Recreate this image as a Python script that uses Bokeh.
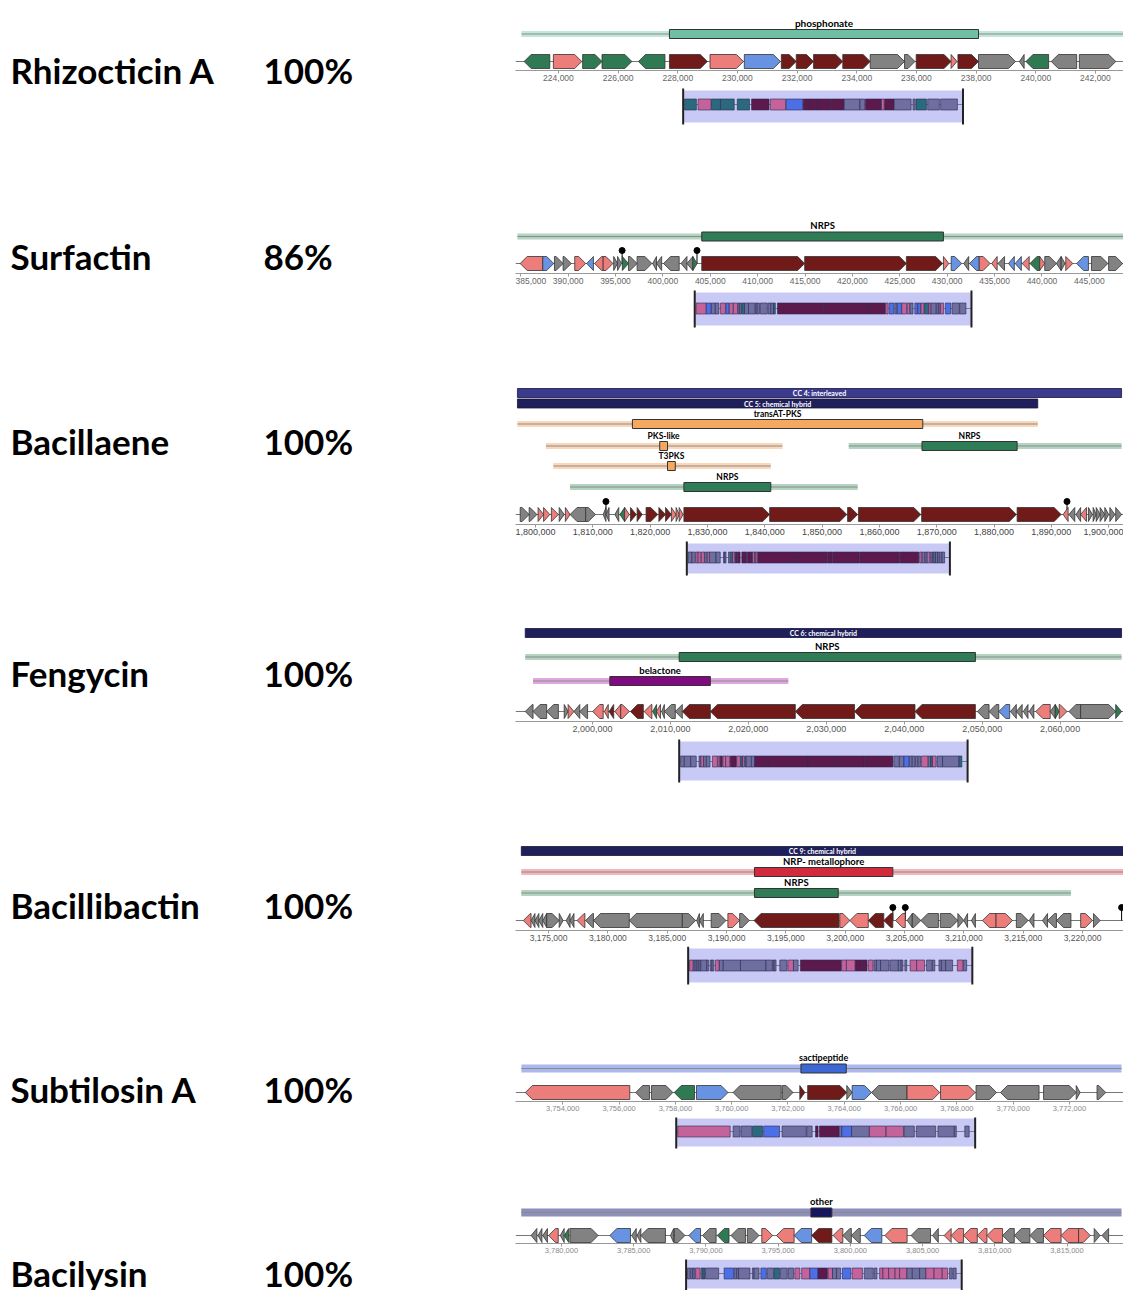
from bokeh.plotting import figure
from bokeh.layouts import row, column
from bokeh.models import Range1d, SingleIntervalTicker, NumeralTickFormatter, ColumnDataSource
from bokeh.embed import file_html
from bokeh.resources import INLINE
from bokeh.core.properties import value

# ---------------- data ----------------
NAMES = ["Rhizocticin A", "Surfactin", "Bacillaene", "Fengycin", "Bacillibactin", "Subtilosin A", "Bacilysin"]
SIMILARITY = ["100%", "86%", "100%", "100%", "100%", "100%", "100%"]

# visible genomic window (kb) and tick step (bp)
VIEWS = [(222.56, 242.94), (384.45, 448.60), (1796.51, 1902.59), (1990.13, 2068.13),
         (3172.21, 3223.45), (3752.32, 3773.92), (3776.82, 3818.91)]
TICK_STEP = [2000, 5000, 10000, 10000, 5000, 2000, 5000]

# genes: (start kb, end kb, strand, class)
RHIZ_GENES = [
    (222.85, 223.71, -1, "tra"), (223.83, 224.78, 1, "add"), (224.81, 225.46, 1, "tra"),
    (225.46, 226.46, 1, "tra"), (226.68, 227.57, -1, "tra"), (227.72, 228.99, 1, "bio"),
    (229.08, 230.20, 1, "add"), (230.23, 231.44, 1, "reg"), (231.47, 231.97, 1, "bio"),
    (231.97, 232.55, 1, "bio"), (232.55, 233.53, 1, "bio"), (233.53, 234.45, 1, "bio"),
    (234.45, 235.60, 1, "oth"), (235.60, 235.95, 1, "oth"), (235.99, 237.16, 1, "bio"),
    (237.16, 237.36, 1, "add"), (237.39, 238.08, 1, "bio"), (238.08, 239.32, 1, "oth"),
    (239.45, 239.61, -1, "oth"), (239.67, 240.43, -1, "tra"), (240.52, 241.37, -1, "oth"),
    (241.46, 242.68, 1, "oth"),
]
SURF_GENES = [
    (384.94, 387.33, -1, "add"), (387.33, 388.48, 1, "reg"), (388.56, 389.47, 1, "oth"),
    (389.47, 390.33, 1, "oth"), (390.70, 391.85, 1, "add"), (391.97, 392.67, -1, "reg"),
    (392.80, 393.70, -1, "add"), (393.70, 394.73, 1, "add"), (394.81, 395.22, 1, "oth"),
    (395.22, 395.63, 1, "oth"), (395.72, 396.37, 1, "tra"), (396.37, 397.28, 1, "oth"),
    (397.28, 398.84, 1, "oth"), (398.92, 399.33, -1, "oth"), (399.33, 399.87, -1, "oth"),
    (400.07, 401.72, -1, "oth"), (401.92, 402.54, -1, "oth"), (402.54, 403.16, -1, "oth"),
    (403.16, 403.61, 1, "tra"), (404.10, 414.96, 1, "bio"), (414.96, 425.69, 1, "bio"),
    (425.69, 429.52, 1, "bio"), (429.60, 430.17, 1, "add"), (430.42, 431.53, 1, "reg"),
    (431.74, 432.27, -1, "oth"), (432.35, 433.38, -1, "reg"), (433.38, 434.53, 1, "add"),
    (434.70, 435.27, -1, "add"), (435.36, 436.05, -1, "oth"), (436.47, 437.08, -1, "reg"),
    (437.17, 437.82, -1, "reg"), (437.91, 438.65, -1, "add"), (438.73, 439.76, -1, "tra"),
    (439.76, 440.29, 1, "add"), (440.29, 441.52, 1, "oth"), (441.52, 442.02, -1, "oth"),
    (442.02, 442.43, 1, "oth"), (442.51, 443.25, 1, "add"), (443.66, 444.90, -1, "reg"),
    (445.22, 446.95, 1, "oth"), (447.03, 448.51, 1, "oth"),
]
BACL_GENES = [
    (1797.33, 1798.89, 1, "oth"), (1798.89, 1800.25, 1, "oth"), (1800.45, 1801.41, 1, "add"),
    (1801.41, 1802.49, 1, "add"), (1802.77, 1803.99, 1, "add"), (1804.13, 1805.01, 1, "oth"),
    (1805.21, 1806.03, 1, "add"), (1806.03, 1808.75, -1, "oth"), (1808.75, 1810.45, 1, "oth"),
    (1811.81, 1812.29, -1, "oth"), (1812.29, 1812.83, -1, "oth"), (1813.85, 1814.53, -1, "oth"),
    (1814.73, 1815.55, -1, "tra"), (1815.55, 1816.37, 1, "add"), (1816.57, 1817.59, 1, "bio"),
    (1817.73, 1818.61, 1, "bio"), (1819.29, 1821.33, 1, "bio"), (1821.53, 1822.69, 1, "bio"),
    (1822.69, 1823.71, 1, "bio"), (1823.71, 1824.53, 1, "add"), (1824.53, 1825.07, 1, "add"),
    (1825.07, 1825.75, 1, "add"), (1825.89, 1840.85, 1, "bio"), (1840.85, 1854.31, 1, "bio"),
    (1854.45, 1856.21, 1, "bio"), (1856.35, 1867.23, 1, "bio"), (1867.37, 1883.89, 1, "bio"),
    (1884.03, 1891.71, 1, "bio"), (1892.05, 1892.93, -1, "add"), (1893.07, 1894.09, -1, "oth"),
    (1894.29, 1895.11, -1, "oth"), (1895.11, 1896.13, -1, "add"), (1896.47, 1897.15, 1, "oth"),
    (1897.29, 1897.83, 1, "oth"), (1897.83, 1898.51, 1, "oth"), (1898.51, 1899.33, 1, "oth"),
    (1899.33, 1900.01, 1, "oth"), (1900.21, 1901.09, 1, "oth"), (1901.23, 1902.25, 1, "oth"),
]
FENG_GENES = [
    (1991.38, 1992.38, -1, "oth"), (1992.38, 1994.13, -1, "oth"), (1994.13, 1995.63, -1, "oth"),
    (1996.38, 1996.88, 1, "oth"), (1996.88, 1997.63, 1, "add"), (1997.63, 1998.38, -1, "oth"),
    (1998.38, 1999.38, -1, "oth"), (2000.03, 2001.38, -1, "add"), (2001.53, 2002.03, -1, "add"),
    (2002.13, 2002.73, -1, "bio"), (2002.88, 2003.63, -1, "add"), (2003.63, 2004.73, 1, "add"),
    (2004.88, 2006.53, -1, "bio"), (2006.63, 2007.63, -1, "add"), (2007.73, 2008.23, -1, "tra"),
    (2008.23, 2008.73, -1, "add"), (2008.88, 2009.23, -1, "oth"), (2009.23, 2010.63, -1, "oth"),
    (2010.63, 2011.53, -1, "oth"), (2011.53, 2015.13, -1, "bio"), (2015.13, 2026.03, -1, "bio"),
    (2026.03, 2033.63, -1, "bio"), (2033.63, 2041.38, -1, "bio"), (2041.38, 2049.13, -1, "bio"),
    (2049.38, 2050.88, -1, "oth"), (2050.88, 2052.13, -1, "oth"), (2052.13, 2053.53, -1, "reg"),
    (2053.63, 2054.38, -1, "oth"), (2054.38, 2055.13, -1, "oth"), (2055.28, 2055.88, -1, "oth"),
    (2056.03, 2056.63, -1, "oth"), (2056.88, 2058.73, -1, "add"), (2058.73, 2059.38, -1, "oth"),
    (2059.38, 2059.88, 1, "tra"), (2059.88, 2060.88, 1, "add"), (2061.13, 2062.63, -1, "oth"),
    (2062.63, 2067.13, 1, "oth"), (2067.13, 2067.88, 1, "tra"),
]
BACI_GENES = [
    (3172.87, 3173.52, -1, "add"), (3173.52, 3173.85, -1, "oth"), (3173.85, 3174.18, -1, "oth"),
    (3174.18, 3174.51, -1, "oth"), (3174.51, 3174.84, -1, "oth"), (3174.84, 3175.89, 1, "oth"),
    (3175.89, 3176.22, 1, "oth"), (3176.48, 3176.81, -1, "oth"), (3176.81, 3177.14, -1, "oth"),
    (3177.40, 3178.06, -1, "add"), (3178.12, 3178.78, -1, "oth"), (3178.78, 3181.80, -1, "oth"),
    (3181.80, 3186.27, -1, "oth"), (3186.27, 3187.39, 1, "oth"), (3187.48, 3187.71, -1, "oth"),
    (3187.71, 3188.04, -1, "oth"), (3188.70, 3189.95, 1, "oth"), (3190.11, 3191.10, 1, "add"),
    (3191.10, 3191.92, 1, "oth"), (3192.31, 3199.47, -1, "bio"), (3199.54, 3200.39, 1, "add"),
    (3200.39, 3201.94, -1, "add"), (3201.94, 3203.25, -1, "bio"), (3203.25, 3204.01, -1, "bio"),
    (3204.24, 3205.06, -1, "add"), (3205.22, 3205.65, -1, "oth"), (3205.65, 3206.37, 1, "oth"),
    (3206.37, 3207.85, -1, "oth"), (3208.01, 3209.49, 1, "oth"), (3209.49, 3209.99, 1, "oth"),
    (3209.99, 3210.31, -1, "oth"), (3210.64, 3210.97, -1, "oth"), (3211.56, 3212.71, -1, "add"),
    (3212.71, 3214.09, 1, "add"), (3214.42, 3215.41, 1, "oth"), (3215.50, 3215.90, -1, "oth"),
    (3216.62, 3217.05, -1, "oth"), (3217.05, 3217.80, -1, "oth"), (3217.80, 3219.02, -1, "oth"),
    (3219.84, 3220.83, 1, "add"), (3220.92, 3221.48, 1, "oth"),
]
SUBT_GENES = [
    (3752.67, 3756.38, -1, "add"), (3756.59, 3757.08, -1, "oth"), (3757.15, 3757.91, 1, "oth"),
    (3757.96, 3758.68, -1, "tra"), (3758.75, 3759.87, 1, "reg"), (3760.05, 3761.76, -1, "oth"),
    (3761.80, 3762.18, 1, "oth"), (3762.42, 3762.60, 1, "bio"), (3762.70, 3764.09, 1, "bio"),
    (3764.09, 3764.28, 1, "oth"), (3764.28, 3764.97, 1, "reg"), (3764.97, 3766.23, -1, "oth"),
    (3766.23, 3767.39, 1, "add"), (3767.42, 3768.65, 1, "add"), (3768.68, 3769.41, 1, "oth"),
    (3769.55, 3770.92, -1, "oth"), (3771.08, 3772.24, 1, "oth"), (3772.24, 3772.38, 1, "oth"),
    (3772.98, 3773.29, 1, "oth"),
]
BACY_GENES = [
    (3777.90, 3778.30, -1, "oth"), (3778.38, 3778.65, -1, "oth"), (3778.71, 3779.03, -1, "oth"),
    (3779.11, 3779.78, -1, "add"), (3779.92, 3780.19, -1, "oth"), (3780.19, 3780.51, -1, "tra"),
    (3780.59, 3782.54, 1, "oth"), (3783.35, 3784.78, -1, "reg"), (3784.86, 3785.18, -1, "oth"),
    (3785.23, 3785.50, -1, "oth"), (3785.50, 3787.20, -1, "oth"), (3787.55, 3787.77, -1, "oth"),
    (3787.82, 3788.55, 1, "oth"), (3788.82, 3789.63, -1, "reg"), (3789.77, 3790.71, -1, "oth"),
    (3790.79, 3791.60, -1, "tra"), (3791.74, 3792.74, -1, "oth"), (3792.87, 3793.68, 1, "oth"),
    (3793.87, 3794.62, 1, "add"), (3794.89, 3796.11, -1, "add"), (3796.11, 3797.32, -1, "reg"),
    (3797.32, 3798.72, -1, "bio"), (3798.81, 3799.48, -1, "add"), (3799.48, 3800.07, -1, "oth"),
    (3800.07, 3800.69, -1, "oth"), (3800.96, 3802.18, -1, "reg"), (3802.39, 3803.93, -1, "add"),
    (3804.20, 3805.55, -1, "oth"), (3805.69, 3806.09, -1, "oth"), (3806.49, 3806.98, -1, "add"),
    (3806.98, 3807.84, -1, "add"), (3807.84, 3808.79, -1, "add"), (3808.79, 3809.46, -1, "add"),
    (3809.46, 3810.54, -1, "add"), (3810.54, 3811.35, -1, "oth"), (3811.35, 3812.43, -1, "oth"),
    (3812.43, 3813.37, -1, "oth"), (3813.37, 3814.59, -1, "add"), (3814.59, 3815.80, -1, "add"),
    (3815.80, 3816.61, 1, "add"), (3816.88, 3817.29, 1, "oth"), (3817.42, 3817.88, -1, "oth"),
]
GENES = [RHIZ_GENES, SURF_GENES, BACL_GENES, FENG_GENES, BACI_GENES, SUBT_GENES, BACY_GENES]

# regions: (label, kind, core start kb, core end kb, neighbourhood start kb, neighbourhood end kb)
REGIONS = [
    [("phosphonate", "phosphonate", 227.72, 238.08, 222.76, 242.94)],
    [("NRPS", "nrps", 404.10, 429.60, 384.65, 448.60)],
    [("CC 4: interleaved", "cc4", 1796.85, 1902.25, None, None),
     ("CC 5: chemical hybrid", "cc5", 1796.85, 1887.63, None, None),
     ("transAT-PKS", "pks", 1816.91, 1867.57, 1796.85, 1887.63),
     ("PKS-like", "pks", 1821.67, 1823.03, 1801.81, 1843.09),
     ("NRPS", "nrps", 1867.43, 1884.03, 1854.65, 1902.25),
     ("T3PKS", "pks", 1823.03, 1824.39, 1803.11, 1841.05),
     ("NRPS", "nrps", 1825.89, 1841.05, 1806.03, 1856.21)],
    [("CC 6: chemical hybrid", "cc5", 1991.38, 2067.88, None, None),
     ("NRPS", "nrps", 2011.13, 2049.13, 1991.38, 2067.88),
     ("belactone", "betalactone", 2002.23, 2015.13, 1992.38, 2025.13)],
    [("CC 9: chemical hybrid", "cc5", 3172.70, 3223.45, None, None),
     ("NRP- metallophore", "metallo", 3192.35, 3204.01, 3172.70, 3223.45),
     ("NRPS", "nrps", 3192.35, 3199.41, 3172.70, 3219.02)],
    [("sactipeptide", "sacti", 3762.46, 3764.07, 3752.53, 3773.85)],
    [("other", "other", 3797.27, 3798.72, 3777.22, 3818.77)],
]
TERMINATORS = [[], [395.70, 403.60], [1812.29, 1892.73], [], [3204.01, 3205.06, 3223.29], [], []]
BOXES = [(228.18, 237.56), (403.36, 432.56), (1826.40, 1872.30), (2011.13, 2048.13),
         (3186.76, 3210.71), (3758.03, 3768.65), (3788.63, 3807.71)]

# ---------------- styles / layout ----------------
GENE_COLORS = {"bio": "#701a1a", "add": "#ec7d7a", "tra": "#2f7a52", "reg": "#6893e3", "oth": "#828282"}
MINI_COLORS = {"bio": "#5c1a4c", "add": "#c4629a", "tra": "#2b6a7e", "reg": "#4d6fe6", "oth": "#6e6ea0"}
REGION_STYLE = {
    "phosphonate": ("#6fbfa5", "#c2e6da", 6),
    "nrps": ("#2e7d56", "#b3d4c0", 6),
    "pks": ("#f5a860", "#fbd6b8", 6),
    "betalactone": ("#800a80", "#e0a8df", 6),
    "metallo": ("#d12a3c", "#f5b4b7", 6),
    "sacti": ("#3d67d4", "#aab8ee", 8),
    "other": ("#151560", "#8e8eba", 8),
    "cc4": ("#3b3a8e", None, 9),
    "cc5": ("#1f1f5c", None, 9),
}
FRAME_H = [70, 61, 144, 101, 92, 56, 53]
BOXFIG_H = [126, 91, 80, 101, 99, 73, 31]
GENE_Y = [61, 51, 134, 91, 82, 47, 45]
REGION_Y = [[33.5], [24], [12.5, 23, 43.5, 65.5, 65.5, 85.5, 106.5], [12.5, 36.5, 60.5],
            [12.5, 33.5, 54.5], [23], [22]]
TERM_Y = [0, 38, 121, 0, 69, 0, 0]
BOX_Y = [(4, 36, 18), (3, 36, 19), (3, 33, 17), (4, 43, 24), (2, 36, 19), (1, 29, 14), (0, 29, 14)]
TICK_FONT = ["8.5px", "8.5px", "9px", "9px", "8.5px", "7.5px", "7.5px"]
TICK_COLOR = ["#666666", "#666666", "#444444", "#555555", "#555555", "#8a8a8a", "#8a8a8a"]
LABEL_FONT = ["10px", "9.5px", "8.5px", "9.5px", "9.5px", "9px", "9.5px"]
NAME_Y = [69, 255, 440, 672, 904, 1088, 1272]
AX = 16
W_LEFT = 515
W_RIGHT = 608


def base_fig(w, h, xr, yr):
    p = figure(width=w, height=h, x_range=xr, y_range=yr, output_backend="svg",
               toolbar_location=None, x_axis_location=None, y_axis_location=None,
               min_border_left=0, min_border_right=0, min_border_top=0, min_border_bottom=0)
    p.grid.visible = False
    p.outline_line_color = None
    p.background_fill_color = "white"
    p.border_fill_color = "white"
    return p


def arrows(genes, y, half, head, colors, xmap=lambda v: v):
    xs, ys, fills = [], [], []
    for s, e, strand, cls in genes:
        s, e = xmap(s * 1000), xmap(e * 1000)
        h = min(head, e - s)
        if strand > 0:
            xs.append([s, e - h, e, e - h, s])
        else:
            xs.append([e, s + h, s, s + h, e])
        ys.append([y - half, y - half, y, y + half, y + half])
        fills.append(colors[cls])
    return ColumnDataSource(dict(xs=xs, ys=ys, fill=fills))


def cluster_figs(i):
    v0, v1 = VIEWS[i][0] * 1000, VIEWS[i][1] * 1000
    fh = FRAME_H[i]
    p = figure(width=W_RIGHT, height=fh + AX, x_range=Range1d(v0, v1), y_range=Range1d(fh, 0),
               output_backend="svg", toolbar_location=None, y_axis_location=None,
               min_border_left=0, min_border_right=0, min_border_top=0, min_border_bottom=AX)
    p.grid.visible = False
    p.outline_line_color = None
    ax = p.xaxis[0]
    ax.ticker = SingleIntervalTicker(interval=TICK_STEP[i], num_minor_ticks=0)
    ax.formatter = NumeralTickFormatter(format="0,0")
    ax.axis_line_color = "#999999"
    ax.major_tick_line_color = "#999999"
    ax.minor_tick_line_color = None
    ax.major_tick_in = 0
    ax.major_tick_out = 3
    ax.major_label_standoff = 1
    ax.major_label_text_font = "Liberation Sans"
    ax.major_label_text_font_size = TICK_FONT[i]
    ax.major_label_text_color = TICK_COLOR[i]

    bpp = (v1 - v0) / W_RIGHT

    # regions
    for (label, kind, cs, ce, ns, ne), y in zip(REGIONS[i], REGION_Y[i]):
        core, light, nbh = REGION_STYLE[kind]
        cs, ce = cs * 1000, ce * 1000
        if light is None:
            p.quad(left=[cs], right=[ce], top=[y - 4.5], bottom=[y + 4.5], fill_color=core,
                   line_color="#15153a", line_width=0.8)
            p.text(x=[(cs + ce) / 2], y=[y], text=[label], text_align="center",
                   text_baseline="middle", text_font=value("Lato"), text_font_style="bold",
                   text_font_size="7px", text_color="white")
        else:
            ns, ne = ns * 1000, ne * 1000
            p.quad(left=[ns], right=[ne], top=[y - nbh / 2], bottom=[y + nbh / 2],
                   fill_color=light, line_color=None)
            p.segment(x0=[ns], x1=[ne], y0=[y], y1=[y], line_color="#8a8a8a", line_width=1)
            p.quad(left=[cs], right=[ce], top=[y - 4.5], bottom=[y + 4.5], fill_color=core,
                   line_color="#333333", line_width=1)
            p.text(x=[(cs + ce) / 2], y=[y - 5.5], text=[label], text_align="center",
                   text_baseline="bottom", text_font=value("Lato"), text_font_style="bold",
                   text_font_size=LABEL_FONT[i], text_color="black")

    gy = GENE_Y[i]
    p.segment(x0=[v0], x1=[v1], y0=[gy], y1=[gy], line_color="#777777", line_width=1)
    terms = [t * 1000 for t in TERMINATORS[i]]
    if terms:
        p.segment(x0=terms, x1=terms, y0=[gy] * len(terms), y1=[TERM_Y[i]] * len(terms),
                  line_color="black", line_width=1)
    src = arrows(GENES[i], gy, 7, 7 * bpp, GENE_COLORS)
    p.patches(xs="xs", ys="ys", fill_color="fill", line_color="#333333", line_width=0.8, source=src)
    if terms:
        p.scatter(x=terms, y=[TERM_Y[i]] * len(terms), size=6, color="black")

    # highlighted region with compressed overview
    bh = BOXFIG_H[i]
    b = base_fig(W_RIGHT, bh, p.x_range, Range1d(bh, 0))
    bs, be = BOXES[i][0] * 1000, BOXES[i][1] * 1000
    top, bot, sy = BOX_Y[i]
    b.quad(left=[bs], right=[be], top=[top], bottom=[bot], fill_color="#c9c9f6", line_color=None)
    b.segment(x0=[bs], x1=[be], y0=[sy], y1=[sy], line_color="#7a7a9a", line_width=1)
    g0 = min(g[0] for g in GENES[i]) * 1000
    g1 = max(g[1] for g in GENES[i]) * 1000
    w = be - bs
    t0, t1 = bs + 0.005 * w, be - 0.02 * w
    f = (t1 - t0) / (g1 - g0)
    mini = arrows(GENES[i], sy, 5.5, 0, MINI_COLORS, xmap=lambda v: t0 + (v - g0) * f)
    b.patches(xs="xs", ys="ys", fill_color="fill", line_color="#2a2a50", line_width=0.6, source=mini)
    b.segment(x0=[bs, be], x1=[bs, be], y0=[top - 2, top - 2], y1=[bot + 2, bot + 2],
              line_color="#222222", line_width=2)
    return [p, b]


right_children = []
for i in range(7):
    right_children.extend(cluster_figs(i))
right = column(*right_children)

TOTAL_H = sum(FRAME_H) + AX * 7 + sum(BOXFIG_H)
lab = base_fig(W_LEFT, TOTAL_H, Range1d(0, W_LEFT), Range1d(TOTAL_H, 0))
lab.text(x=[10] * 7, y=NAME_Y, text=NAMES, text_font=value("Lato"), text_font_style="bold",
         text_font_size="35px", text_baseline="middle", text_color="black")
lab.text(x=[263] * 7, y=NAME_Y, text=SIMILARITY, text_font=value("Lato"), text_font_style="bold",
         text_font_size="35px", text_baseline="middle", text_color="black")

layout = row(lab, right)
open("out.html", "w").write(file_html(layout, INLINE))
